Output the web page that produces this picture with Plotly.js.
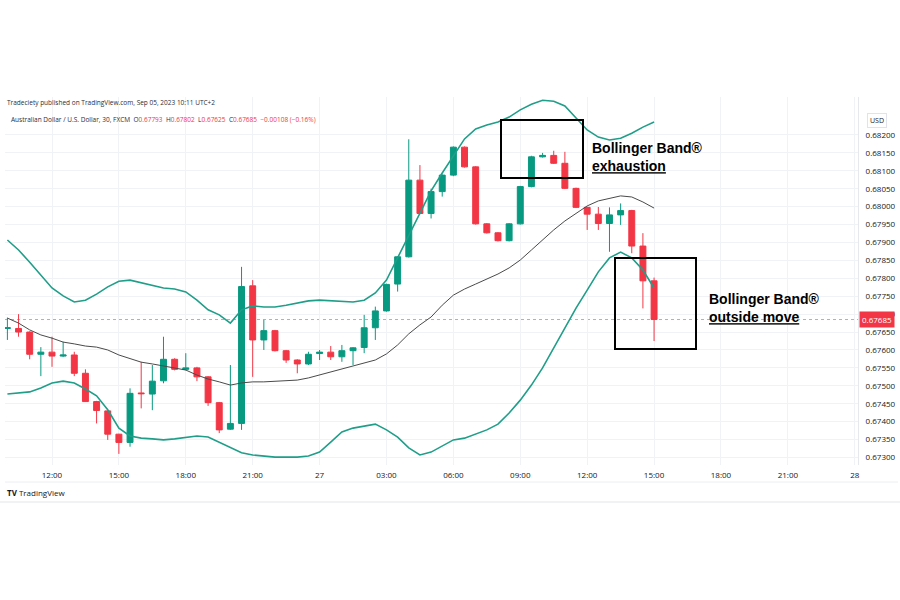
<!DOCTYPE html>
<html>
<head>
<meta charset="utf-8">
<script src="https://cdn.plot.ly/plotly-3.0.1.min.js"></script>
<style>html,body{margin:0;padding:0;background:#fff;}#chart{width:900px;height:600px;}</style>
</head>
<body>
<div id="chart"></div>
<script>
const times = [
"2023-07-26 10:00","2023-07-26 10:30","2023-07-26 11:00","2023-07-26 11:30","2023-07-26 12:00","2023-07-26 12:30",
"2023-07-26 13:00","2023-07-26 13:30","2023-07-26 14:00","2023-07-26 14:30","2023-07-26 15:00","2023-07-26 15:30",
"2023-07-26 16:00","2023-07-26 16:30","2023-07-26 17:00","2023-07-26 17:30","2023-07-26 18:00","2023-07-26 18:30",
"2023-07-26 19:00","2023-07-26 19:30","2023-07-26 20:00","2023-07-26 20:30","2023-07-26 21:00","2023-07-26 21:30",
"2023-07-26 22:00","2023-07-26 22:30","2023-07-26 23:00","2023-07-26 23:30",
"2023-07-27 00:00","2023-07-27 00:30","2023-07-27 01:00","2023-07-27 01:30","2023-07-27 02:00","2023-07-27 02:30",
"2023-07-27 03:00","2023-07-27 03:30","2023-07-27 04:00","2023-07-27 04:30","2023-07-27 05:00","2023-07-27 05:30",
"2023-07-27 06:00","2023-07-27 06:30","2023-07-27 07:00","2023-07-27 07:30","2023-07-27 08:00","2023-07-27 08:30",
"2023-07-27 09:00","2023-07-27 09:30","2023-07-27 10:00","2023-07-27 10:30","2023-07-27 11:00","2023-07-27 11:30",
"2023-07-27 12:00","2023-07-27 12:30","2023-07-27 13:00","2023-07-27 13:30","2023-07-27 14:00","2023-07-27 14:30",
"2023-07-27 15:00"];

const open = [0.67660,0.67660,0.67650,0.67588,0.67594,0.67583,0.67586,0.67535,0.67456,0.67430,0.67365,0.67342,
0.67480,0.67477,0.67514,0.67574,0.67546,0.67550,0.67525,0.67453,0.67379,0.67395,0.67779,0.67628,0.67654,0.67598,
0.67572,0.67561,0.67590,0.67594,0.67581,0.67598,0.67607,0.67662,0.67709,0.67784,0.67860,0.68074,0.67981,0.68042,
0.68088,0.68166,0.68111,0.67952,0.67927,0.67905,0.67952,0.68056,0.68139,0.68143,0.68121,0.68051,0.67998,0.67979,
0.67953,0.67977,0.67989,0.67890,0.67793];
const high = [0.67690,0.67700,0.67652,0.67608,0.67637,0.67623,0.67595,0.67546,0.67458,0.67432,0.67366,0.67493,
0.67567,0.67558,0.67637,0.67577,0.67591,0.67553,0.67527,0.67455,0.67558,0.67832,0.67795,0.67684,0.67656,0.67600,
0.67574,0.67595,0.67600,0.67611,0.67614,0.67608,0.67698,0.67721,0.67785,0.67862,0.68188,0.68116,0.68050,0.68090,
0.68168,0.68168,0.68113,0.67954,0.67929,0.67954,0.68058,0.68142,0.68150,0.68156,0.68153,0.68053,0.68000,0.67999,
0.67998,0.68009,0.67991,0.67926,0.67802];
const low = [0.67628,0.67637,0.67574,0.67527,0.67553,0.67580,0.67527,0.67455,0.67395,0.67349,0.67310,0.67330,
0.67437,0.67432,0.67507,0.67543,0.67543,0.67513,0.67444,0.67368,0.67377,0.67377,0.67525,0.67600,0.67596,0.67564,
0.67535,0.67558,0.67572,0.67572,0.67567,0.67558,0.67591,0.67628,0.67707,0.67763,0.67858,0.67979,0.67967,0.68028,
0.68085,0.68109,0.67950,0.67925,0.67903,0.67903,0.67950,0.68054,0.68137,0.68119,0.68049,0.67996,0.67935,0.67935,
0.67874,0.67949,0.67870,0.67716,0.67625];
const close = [0.67662,0.67650,0.67588,0.67594,0.67583,0.67586,0.67535,0.67456,0.67431,0.67365,0.67342,0.67479,
0.67478,0.67513,0.67574,0.67546,0.67550,0.67525,0.67453,0.67377,0.67395,0.67777,0.67628,0.67654,0.67598,0.67572,
0.67561,0.67588,0.67594,0.67581,0.67598,0.67606,0.67662,0.67709,0.67783,0.67860,0.68074,0.67981,0.68042,0.68088,
0.68166,0.68111,0.67952,0.67927,0.67905,0.67952,0.68056,0.68139,0.68143,0.68121,0.68051,0.67998,0.67979,0.67953,
0.67977,0.67989,0.67890,0.67793,0.67685];

const bbUpper = [0.67907,0.67879,0.67845,0.67809,0.67773,0.67751,0.67734,0.67739,0.67756,0.67776,0.67792,0.67795,
0.67787,0.67779,0.67773,0.67770,0.67762,0.67739,0.67712,0.67698,0.67675,0.67712,0.67723,0.67720,0.67720,0.67725,
0.67731,0.67737,0.67739,0.67737,0.67734,0.67734,0.67739,0.67759,0.67795,0.67857,0.67921,0.67982,0.68044,0.68094,
0.68141,0.68189,0.68217,0.68228,0.68236,0.68250,0.68270,0.68286,0.68297,0.68294,0.68281,0.68247,0.68214,0.68194,
0.68186,0.68191,0.68205,0.68222,0.68236];
const bbBasis = [0.67689,0.67675,0.67656,0.67642,0.67633,0.67622,0.67617,0.67611,0.67608,0.67600,0.67586,0.67575,
0.67566,0.67561,0.67555,0.67550,0.67544,0.67530,0.67519,0.67511,0.67502,0.67508,0.67511,0.67511,0.67513,0.67513,
0.67516,0.67522,0.67530,0.67539,0.67547,0.67555,0.67564,0.67572,0.67589,0.67614,0.67645,0.67670,0.67692,0.67725,
0.67753,0.67770,0.67784,0.67798,0.67812,0.67829,0.67851,0.67879,0.67907,0.67935,0.67960,0.67982,0.68002,0.68016,
0.68024,0.68030,0.68027,0.68013,0.67996];
const bbLower = [0.67477,0.67480,0.67483,0.67494,0.67508,0.67513,0.67508,0.67491,0.67472,0.67433,0.67382,0.67360,
0.67354,0.67352,0.67349,0.67352,0.67357,0.67360,0.67357,0.67343,0.67327,0.67313,0.67307,0.67304,0.67301,0.67301,
0.67301,0.67304,0.67315,0.67343,0.67371,0.67382,0.67388,0.67393,0.67377,0.67357,0.67327,0.67307,0.67315,0.67332,
0.67349,0.67354,0.67366,0.67377,0.67393,0.67424,0.67460,0.67502,0.67550,0.67606,0.67661,0.67717,0.67767,0.67818,
0.67857,0.67873,0.67857,0.67823,0.67773];

const timeTickVals = ["2023-07-26 12:00","2023-07-26 15:00","2023-07-26 18:00","2023-07-26 21:00","2023-07-27 00:00",
"2023-07-27 03:00","2023-07-27 06:00","2023-07-27 09:00","2023-07-27 12:00","2023-07-27 15:00","2023-07-27 18:00",
"2023-07-27 21:00","2023-07-28 00:00"];
const timeTickText = ["12:00","15:00","18:00","21:00","27","03:00","06:00","09:00","12:00","15:00","18:00","21:00","28"];
const priceTicks = [0.67300,0.67350,0.67400,0.67450,0.67500,0.67550,0.67600,0.67650,0.67700,0.67750,0.67800,
0.67850,0.67900,0.67950,0.68000,0.68050,0.68100,0.68150,0.68200];

const GREEN = "#089981", RED = "#f23645", BAND = "#1f9e89";
const n = close.length;
const lastO = open[n-1], lastH = high[n-1], lastL = low[n-1], lastC = close[n-1];
const chg = lastC - close[n-2];
const pct = chg / close[n-2] * 100;
const fmt = v => v.toFixed(5);
const minus = v => (v < 0 ? "\u2212" : "+") + Math.abs(v).toFixed(5);

// plot area in pixels
const L = 5, R = 858, T = 97, B = 465;
const px = x => (x - L) / (R - L);
const py = y => (B - y) / (B - T);

const traces = [
  {type:"scatter", mode:"lines", x:times, y:bbUpper, line:{color:BAND, width:1.6}, hoverinfo:"skip"},
  {type:"scatter", mode:"lines", x:times, y:bbLower, line:{color:BAND, width:1.6}, hoverinfo:"skip"},
  {type:"scatter", mode:"lines", x:times, y:bbBasis, line:{color:"#4a4a4a", width:1}, hoverinfo:"skip"},
  {type:"candlestick", x:times, open:open, high:high, low:low, close:close,
   increasing:{line:{color:GREEN, width:1}, fillcolor:GREEN},
   decreasing:{line:{color:RED, width:1}, fillcolor:RED},
   whiskerwidth:0, hoverinfo:"skip"}
];

const grey = "#131722";
const layout = {
  width:900, height:600,
  paper_bgcolor:"#ffffff", plot_bgcolor:"#ffffff",
  margin:{l:L, r:900-R, t:T, b:600-B, pad:0},
  showlegend:false,
  boxgap:0.24,
  font:{family:"Open Sans, Liberation Sans, Arial, sans-serif", size:8, color:grey},
  xaxis:{type:"date", range:["2023-07-26 09:53:33","2023-07-28 00:08:42"],
    tickvals:timeTickVals, ticktext:timeTickText, ticks:"", showgrid:true, gridcolor:"#f1f2f5", gridwidth:1,
    zeroline:false, showline:false, rangeslider:{visible:false}, tickfont:{size:8, color:grey}, ticklabelstandoff:4},
  yaxis:{side:"right", range:[0.67279, 0.68306], tickvals:priceTicks, ticktext:priceTicks.map(fmt),
    ticks:"", showgrid:true, gridcolor:"#f1f2f5", gridwidth:1, zeroline:false, showline:true, linecolor:"#e6e8ee",
    tickfont:{size:8, color:grey}, ticklabelstandoff:5},
  shapes:[
    {type:"line", xref:"paper", x0:0, x1:1, yref:"y", y0:lastC, y1:lastC, line:{color:"rgba(242,54,69,0.55)", width:1, dash:"dot"}, layer:"below"},
    {type:"rect", xref:"paper", yref:"paper", x0:px(501), x1:px(583), y0:py(178), y1:py(120), line:{color:"#000", width:2}},
    {type:"rect", xref:"paper", yref:"paper", x0:px(615), x1:px(696), y0:py(349), y1:py(258), line:{color:"#000", width:2}},
    {type:"line", xref:"paper", yref:"paper", x0:px(5), x1:px(898), y0:py(482), y1:py(482), line:{color:"#eceef2", width:1}},
    {type:"line", xref:"paper", yref:"paper", x0:px(0), x1:px(900), y0:py(502), y1:py(502), line:{color:"#e3e5ea", width:1}}
  ],
  annotations:[
    {xref:"paper", yref:"paper", x:px(5), y:py(103), xanchor:"left", yanchor:"middle", showarrow:false,
     text:"Tradeciety published on TradingView.com, Sep 05, 2023 10:11 UTC+2", font:{size:6.5, color:"#2a2e39"}},
    {xref:"paper", yref:"paper", x:px(9), y:py(119), xanchor:"left", yanchor:"middle", showarrow:false,
     text:"Australian Dollar / U.S. Dollar, 30, FXCM  O<span style='color:"+RED+"'>"+fmt(lastO)+"</span>  H<span style='color:"+RED+"'>"+fmt(lastH)+
          "</span>  L<span style='color:"+RED+"'>"+fmt(lastL)+"</span>  C<span style='color:"+RED+"'>"+fmt(lastC)+"  "+minus(chg)+" ("+(pct<0?"\u2212":"+")+Math.abs(pct).toFixed(2)+"%)</span>",
     font:{size:6.5, color:"#2a2e39"}},
    {xref:"paper", yref:"paper", x:px(877), y:py(120), xanchor:"center", yanchor:"middle", showarrow:false,
     text:"USD", font:{size:7, color:grey}, bordercolor:"#e0e3eb", borderwidth:1, borderpad:2},
    {xref:"paper", yref:"y", x:1, y:lastC, xanchor:"left", yanchor:"middle", showarrow:false,
     text:fmt(lastC), font:{size:8, color:"#ffffff"}, bgcolor:RED, borderpad:2, xshift:1},
    {xref:"paper", yref:"paper", x:px(590), y:py(157), xanchor:"left", yanchor:"middle", showarrow:false, align:"left",
     text:"<b>Bollinger Band®</b><br><b><u>exhaustion</u></b>", font:{family:"Liberation Sans, Arial, sans-serif", size:14, color:"#000"}},
    {xref:"paper", yref:"paper", x:px(707), y:py(308), xanchor:"left", yanchor:"middle", showarrow:false, align:"left",
     text:"<b>Bollinger Band®</b><br><b><u>outside move</u></b>", font:{family:"Liberation Sans, Arial, sans-serif", size:14, color:"#000"}},
    {xref:"paper", yref:"paper", x:px(5), y:py(492), xanchor:"left", yanchor:"middle", showarrow:false,
     text:"<b>TV</b> TradingView", font:{size:8, color:"#131722"}}
  ]
};

Plotly.newPlot("chart", traces, layout, {displayModeBar:false, staticPlot:true});
</script>
</body>
</html>
